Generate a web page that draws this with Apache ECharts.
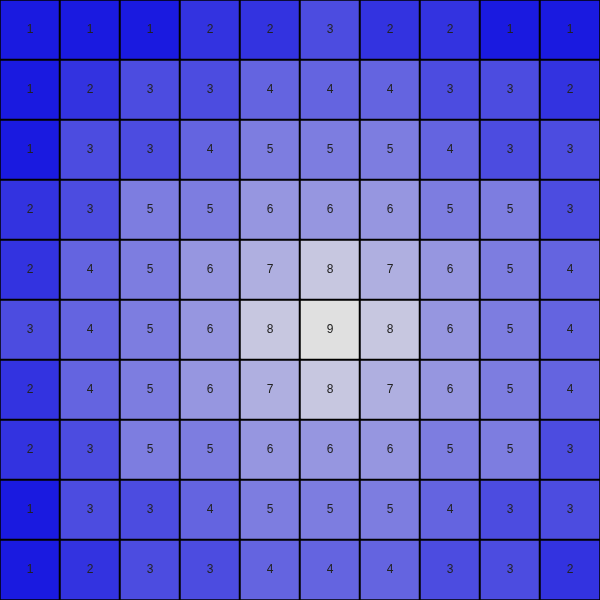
<!DOCTYPE html>
<html><head><meta charset="utf-8">
<script src="https://cdn.jsdelivr.net/npm/echarts@6/dist/echarts.min.js"></script>
<style>html,body{margin:0;padding:0;background:#fff}#c{width:600px;height:600px}</style>
</head><body><div id="c"></div>
<script>
const cols = ['0','1','2','3','4','5','6','7','8','9'];
const rows = ['0','1','2','3','4','5','6','7','8','9'];
const values = [
  [1,1,1,2,2,3,2,2,1,1],
  [1,2,3,3,4,4,4,3,3,2],
  [1,3,3,4,5,5,5,4,3,3],
  [2,3,5,5,6,6,6,5,5,3],
  [2,4,5,6,7,8,7,6,5,4],
  [3,4,5,6,8,9,8,6,5,4],
  [2,4,5,6,7,8,7,6,5,4],
  [2,3,5,5,6,6,6,5,5,3],
  [1,3,3,4,5,5,5,4,3,3],
  [1,2,3,3,4,4,4,3,3,2]
];
const data = [];
values.forEach((r, i) => r.forEach((v, j) => data.push([j, i, v])));
const chart = echarts.init(document.getElementById('c'));
chart.setOption({
  animation: false,
  grid: {left: 0, right: 0, top: 0, bottom: 0},
  xAxis: {type: 'category', data: cols, show: false},
  yAxis: {type: 'category', data: rows, inverse: true, show: false},
  visualMap: {show: false, min: 1, max: 9, dimension: 2, inRange: {color: ['#1a1ae0', '#e0e0e0']}},
  series: [{
    type: 'heatmap',
    data: data,
    label: {show: true, color: '#222', fontSize: 12, fontFamily: 'Liberation Sans, Arial, sans-serif'},
    itemStyle: {borderColor: '#000', borderWidth: 2}
  }]
});
</script></body></html>
